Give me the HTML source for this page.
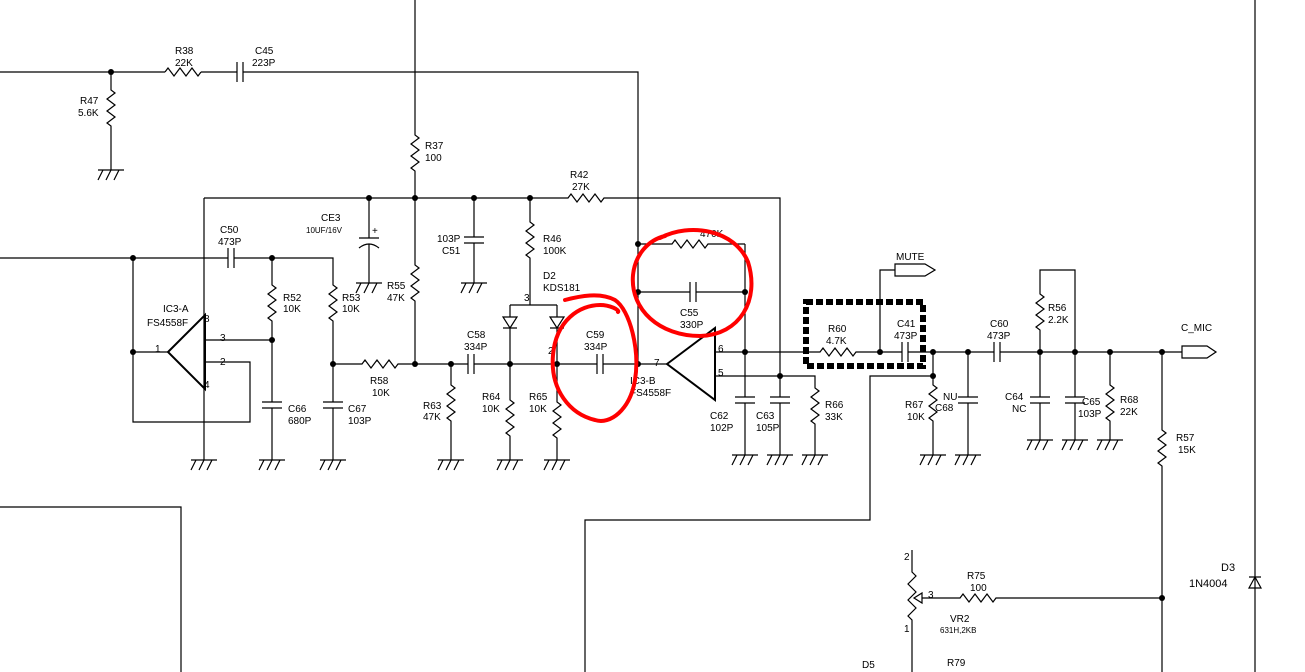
<!DOCTYPE html>
<html><head><meta charset="utf-8"><style>
html,body{margin:0;padding:0;background:#fff;}
svg{display:block;}
text{font-family:"Liberation Sans",sans-serif;font-size:10px;fill:#000;}
</style></head><body>
<svg width="1305" height="672" viewBox="0 0 1305 672" xmlns="http://www.w3.org/2000/svg">
<g fill="none" stroke="#000" stroke-width="1.2">
<!-- top -->
<path d="M0 72 H165 M201 72 H237 M243 72 H638 V364"/>
<path d="M165 72 l3 -4 l6 8 l6 -8 l6 8 l6 -8 l6 8 l3 -4"/>
<path d="M237 62 V82 M243 62 V82"/>
<path d="M111 72 V90 l4 3 l-8 6 l8 6 l-8 6 l8 6 l-8 6 l4 3 V170"/>
<path d="M415 0 V135 l4 3 l-8 6 l8 6 l-8 6 l8 6 l-8 6 l4 3 V265 l4 3 l-8 6 l8 6 l-8 6 l8 6 l-8 6 l4 3 V364"/>
<!-- bus -->
<path d="M204 198 H568 l3 -4 l6 8 l6 -8 l6 8 l6 -8 l6 8 l3 -4 H780 V397 M780 403 V455"/>
<path d="M770 397 H790 M770 403 H790"/>
<path d="M204 198 V460"/>
<path d="M369 198 V238 M359 238 H379 M359 248 Q369 240 379 248 M369 244 V283"/>
<path d="M474 198 V237 M464 237 H484 M464 243 H484 M474 243 V283"/>
<path d="M530 198 V222 l4 3 l-8 6 l8 6 l-8 6 l8 6 l-8 6 l4 3 V305 M510 305 H557"/>
<path d="M510 305 V317 M503 328 H517 M510 328 V400 l4 3 l-8 6 l8 6 l-8 6 l8 6 l-8 6 l4 3 V460"/>
<path d="M557 305 V317 M550 328 H564 M557 328 V402 l4 3 l-8 6 l8 6 l-8 6 l8 6 l-8 6 l4 3 V460"/>
<polygon points="503,317 517,317 510,328"/>
<polygon points="550,317 564,317 557,328"/>
<!-- input / IC3-A -->
<path d="M0 258 H228 M234 258 H333 V285 l4 3 l-8 6 l8 6 l-8 6 l8 6 l-8 6 l4 3 V402 M333 408 V460"/>
<path d="M228 248 V268 M234 248 V268 M323 402 H343 M323 408 H343"/>
<path d="M133 258 V422 H250 V362 H205 M133 352 H168"/>
<path d="M272 258 V285 l4 3 l-8 6 l8 6 l-8 6 l8 6 l-8 6 l4 3 V402 M272 408 V460 M262 402 H282 M262 408 H282 M205 340 H272"/>
<polygon points="168,352 205,315 205,389" stroke-width="2"/>
<path d="M333 364 H362 l3 -4 l6 8 l6 -8 l6 8 l6 -8 l6 8 l3 -4 H468 M474 364 H597 M603 364 H667"/>
<path d="M468 354 V374 M474 354 V374 M597 354 V374 M603 354 V374"/>
<path d="M451 364 V385 l4 3 l-8 6 l8 6 l-8 6 l8 6 l-8 6 l4 3 V460"/>
<!-- IC3-B -->
<polygon points="667,364 715,328 715,400" stroke-width="2"/>
<path d="M715 352 H820 l3 -4 l6 8 l6 -8 l6 8 l6 -8 l6 8 l3 -4 H902 M908 352 H994 M1000 352 H1182"/>
<path d="M902 342 V362 M908 342 V362 M994 342 V362 M1000 342 V362"/>
<path d="M715 376 H815 V388 l4 3 l-8 6 l8 6 l-8 6 l8 6 l-8 6 l4 3 V455"/>
<path d="M745 244 V397 M745 403 V455 M735 397 H755 M735 403 H755"/>
<path d="M638 244 H672 l3 -4 l6 8 l6 -8 l6 8 l6 -8 l6 8 l3 -4 H745"/>
<path d="M638 292 H690 M696 292 H745 M690 282 V302 M696 282 V302"/>
<path d="M880 352 V270 H895"/>
<polygon points="895,264 925,264 935,270 925,276 895,276"/>
<polygon points="1182,346 1207,346 1216,352 1207,358 1182,358"/>
<path d="M933 352 V385 l4 3 l-8 6 l8 6 l-8 6 l8 6 l-8 6 l4 3 V455 M933 376 H870 V520 H585 V672"/>
<path d="M968 352 V397 M968 403 V455 M958 397 H978 M958 403 H978"/>
<path d="M1040 352 V330 l-4 -3 l8 -6 l-8 -6 l8 -6 l-8 -6 l8 -6 l-4 -3 V270 H1075 V397 M1075 403 V440 M1065 397 H1085 M1065 403 H1085"/>
<path d="M1040 352 V397 M1040 403 V440 M1030 397 H1050 M1030 403 H1050"/>
<path d="M1110 352 V385 l4 3 l-8 6 l8 6 l-8 6 l8 6 l-8 6 l4 3 V440"/>
<path d="M1162 352 V430 l4 3 l-8 6 l8 6 l-8 6 l8 6 l-8 6 l4 3 V672"/>
<path d="M1255 0 V672 M1249 577 H1261"/>
<polygon points="1249,588 1261,588 1255,577"/>
<path d="M0 507 H181 V672"/>
<path d="M912 550 V572 l4 4 l-8 8 l8 8 l-8 8 l8 8 l-8 8 l4 4 V672"/>
<polygon points="914,598 922,593 922,603"/>
<path d="M922 598 H960 l3 -4 l6 8 l6 -8 l6 8 l6 -8 l6 8 l3 -4 H1162"/>
<!-- grounds -->
<path d="M98 170 h26 m-21 0 l-5 10 m13 -10 l-5 10 m13 -10 l-5 10"/>
<path d="M191 460 h26 m-21 0 l-5 10 m13 -10 l-5 10 m13 -10 l-5 10"/>
<path d="M259 460 h26 m-21 0 l-5 10 m13 -10 l-5 10 m13 -10 l-5 10"/>
<path d="M320 460 h26 m-21 0 l-5 10 m13 -10 l-5 10 m13 -10 l-5 10"/>
<path d="M356 283 h26 m-21 0 l-5 10 m13 -10 l-5 10 m13 -10 l-5 10"/>
<path d="M461 283 h26 m-21 0 l-5 10 m13 -10 l-5 10 m13 -10 l-5 10"/>
<path d="M438 460 h26 m-21 0 l-5 10 m13 -10 l-5 10 m13 -10 l-5 10"/>
<path d="M497 460 h26 m-21 0 l-5 10 m13 -10 l-5 10 m13 -10 l-5 10"/>
<path d="M544 460 h26 m-21 0 l-5 10 m13 -10 l-5 10 m13 -10 l-5 10"/>
<path d="M732 455 h26 m-21 0 l-5 10 m13 -10 l-5 10 m13 -10 l-5 10"/>
<path d="M767 455 h26 m-21 0 l-5 10 m13 -10 l-5 10 m13 -10 l-5 10"/>
<path d="M802 455 h26 m-21 0 l-5 10 m13 -10 l-5 10 m13 -10 l-5 10"/>
<path d="M920 455 h26 m-21 0 l-5 10 m13 -10 l-5 10 m13 -10 l-5 10"/>
<path d="M955 455 h26 m-21 0 l-5 10 m13 -10 l-5 10 m13 -10 l-5 10"/>
<path d="M1027 440 h26 m-21 0 l-5 10 m13 -10 l-5 10 m13 -10 l-5 10"/>
<path d="M1062 440 h26 m-21 0 l-5 10 m13 -10 l-5 10 m13 -10 l-5 10"/>
<path d="M1097 440 h26 m-21 0 l-5 10 m13 -10 l-5 10 m13 -10 l-5 10"/>
</g>
<!-- nodes -->
<g fill="#000">
<circle cx="111" cy="72" r="3"/><circle cx="369" cy="198" r="3"/><circle cx="415" cy="198" r="3"/>
<circle cx="474" cy="198" r="3"/><circle cx="530" cy="198" r="3"/><circle cx="133" cy="258" r="3"/>
<circle cx="272" cy="258" r="3"/><circle cx="133" cy="352" r="3"/><circle cx="272" cy="340" r="3"/>
<circle cx="333" cy="364" r="3"/><circle cx="415" cy="364" r="3"/><circle cx="451" cy="364" r="3"/>
<circle cx="510" cy="364" r="3"/><circle cx="557" cy="364" r="3"/><circle cx="638" cy="364" r="3"/>
<circle cx="638" cy="244" r="3"/><circle cx="638" cy="292" r="3"/><circle cx="745" cy="292" r="3"/>
<circle cx="745" cy="352" r="3"/><circle cx="780" cy="376" r="3"/><circle cx="880" cy="352" r="3"/>
<circle cx="933" cy="352" r="3"/><circle cx="933" cy="376" r="3"/><circle cx="968" cy="352" r="3"/>
<circle cx="1040" cy="352" r="3"/><circle cx="1075" cy="352" r="3"/><circle cx="1110" cy="352" r="3"/>
<circle cx="1162" cy="352" r="3"/><circle cx="1162" cy="598" r="3"/>
</g>
<!-- dashed box -->
<rect x="806" y="302" width="117" height="64" fill="none" stroke="#000" stroke-width="6" stroke-dasharray="7 3"/>
<!-- labels -->
<text x="175" y="54">R38</text><text x="175" y="66">22K</text>
<text x="255" y="54">C45</text><text x="252" y="66">223P</text>
<text x="80" y="104">R47</text><text x="78" y="116">5.6K</text>
<text x="425" y="149">R37</text><text x="425" y="161">100</text>
<text x="570" y="178">R42</text><text x="572" y="190">27K</text>
<text x="321" y="221">CE3</text><text x="306" y="233" style="font-size:8px">10UF/16V</text><text x="372" y="234">+</text>
<text x="220" y="233">C50</text><text x="218" y="245">473P</text>
<text x="163" y="312">IC3-A</text><text x="147" y="326">FS4558F</text>
<text x="204" y="322">8</text><text x="220" y="341">3</text><text x="220" y="365">2</text><text x="155" y="352">1</text><text x="204" y="388">4</text>
<text x="283" y="301">R52</text><text x="283" y="312">10K</text>
<text x="342" y="301">R53</text><text x="342" y="312">10K</text>
<text x="387" y="289">R55</text><text x="387" y="301">47K</text>
<text x="437" y="242">103P</text><text x="442" y="254">C51</text>
<text x="543" y="242">R46</text><text x="543" y="254">100K</text>
<text x="543" y="279">D2</text><text x="543" y="291">KDS181</text>
<text x="524" y="301">3</text><text x="548" y="354">2</text>
<text x="467" y="338">C58</text><text x="464" y="350">334P</text>
<text x="586" y="338">C59</text><text x="584" y="350">334P</text>
<text x="370" y="384">R58</text><text x="372" y="396">10K</text>
<text x="423" y="409">R63</text><text x="423" y="420">47K</text>
<text x="482" y="400">R64</text><text x="482" y="412">10K</text>
<text x="529" y="400">R65</text><text x="529" y="412">10K</text>
<text x="288" y="412">C66</text><text x="288" y="424">680P</text>
<text x="348" y="412">C67</text><text x="348" y="424">103P</text>
<text x="654" y="366">7</text><text x="718" y="352">6</text><text x="718" y="376">5</text>
<text x="630" y="384">IC3-B</text><text x="630" y="396">FS4558F</text>
<text x="680" y="316">C55</text><text x="680" y="328">330P</text>
<text x="700" y="237">470K</text>
<text x="710" y="419">C62</text><text x="710" y="431">102P</text>
<text x="756" y="419">C63</text><text x="756" y="431">105P</text>
<text x="825" y="408">R66</text><text x="825" y="420">33K</text>
<text x="828" y="332">R60</text><text x="826" y="344">4.7K</text>
<text x="897" y="327">C41</text><text x="894" y="339">473P</text>
<text x="896" y="260">MUTE</text>
<text x="990" y="327">C60</text><text x="987" y="339">473P</text>
<text x="1048" y="311">R56</text><text x="1048" y="323">2.2K</text>
<text x="943" y="400">NU</text><text x="935" y="411">C68</text>
<text x="905" y="408">R67</text><text x="907" y="420">10K</text>
<text x="1005" y="400">C64</text><text x="1012" y="412">NC</text>
<text x="1082" y="405">C65</text><text x="1078" y="417">103P</text>
<text x="1120" y="403">R68</text><text x="1120" y="415">22K</text>
<text x="1181" y="331">C_MIC</text>
<text x="1176" y="441">R57</text><text x="1178" y="453">15K</text>
<text x="1221" y="571" style="font-size:11px">D3</text><text x="1189" y="587" style="font-size:11px">1N4004</text>
<text x="967" y="579">R75</text><text x="970" y="591">100</text>
<text x="950" y="622">VR2</text><text x="940" y="633" style="font-size:8px">631H,2KB</text>
<text x="904" y="560">2</text><text x="904" y="632">1</text><text x="928" y="598">3</text>
<text x="862" y="668">D5</text><text x="947" y="666">R79</text>
<!-- red marks -->
<g fill="none" stroke="#f00" stroke-width="4" stroke-linecap="round">
<path d="M660 238 C690 222 735 230 748 262 C760 300 740 335 700 336 C660 336 630 310 633 275 C635 255 648 240 665 236"/>
<path d="M565 300 C580 296 600 292 615 300 C630 310 640 350 635 380 C630 410 610 425 595 420 C570 414 550 390 553 355 C556 320 580 305 600 305 C610 305 620 310 618 312"/>
</g>
</svg>
</body></html>
